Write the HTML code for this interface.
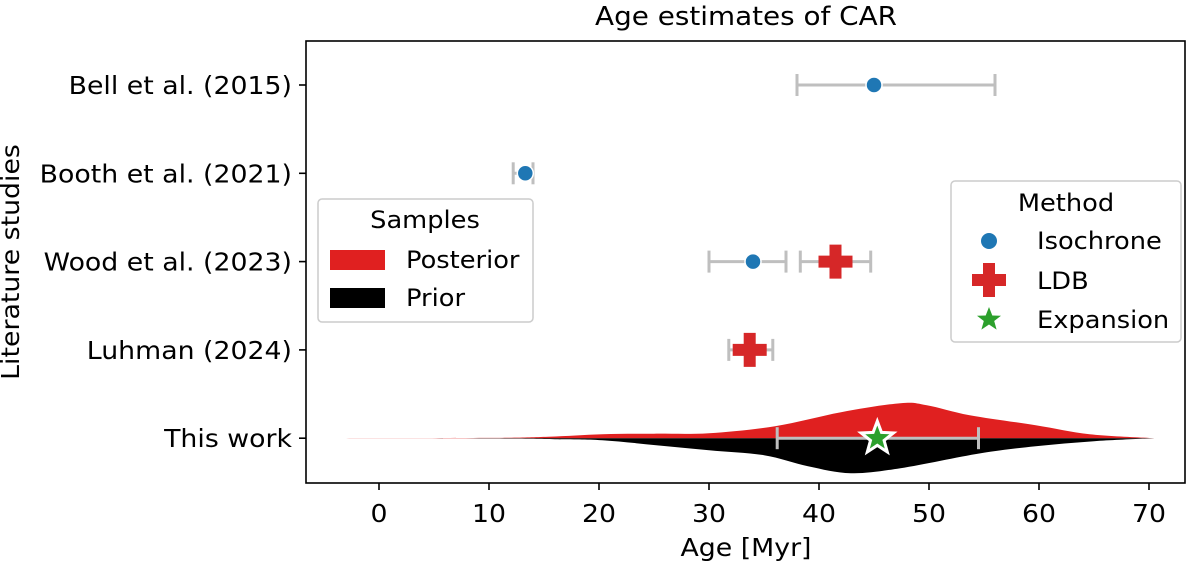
<!DOCTYPE html>
<html><head><meta charset="utf-8"><style>
body{margin:0;background:#fff}
svg text{font-family:"DejaVu Sans","Liberation Sans",sans-serif;fill:#000}
</style></head><body>
<svg id="c" width="1200" height="564" viewBox="0 0 1200 564">
<g id="violin"></g><g id="marks"></g><g id="axes"></g>
</svg>
<script>
const studies=["Bell et al. (2015)","Booth et al. (2021)","Wood et al. (2023)","Luhman (2024)","This work"];
const isoVal=[45,13.3,34,null,null];
const isoLo=[38,12.2,30,null,null];
const isoHi=[56,14,37,null,null];
const ldbVal=[null,null,41.5,33.7,null];
const ldbLo=[null,null,38.3,31.8,null];
const ldbHi=[null,null,44.7,35.8,null];
const expVal=45.3, expLo=36.2, expHi=54.5;
const postX=[-3,10,15.4,20.3,25,30,36,42,47.4,49.8,53.7,59.7,64.6,70.5];
const postD=[0,0.3,1.5,4,4.5,5,12,26,35,33,23,13,4,0];
const priorX=[-3,10,16,20.3,25.2,30,35,39,42.9,47.4,54.7,59.7,65,70.5];
const priorD=[0,0.3,1,2,7,12,17,28,35,30,15,8,3,0];
const xTicks=[0,10,20,30,40,50,60,70];
const NS="http://www.w3.org/2000/svg";
const L=306,R=1185,T=41,B=483;
const xs=v=>379+v*11;
const ys=i=>85+i*88.3;
function mk(tag,attrs,parent,txt){const e=document.createElementNS(NS,tag);for(const k in attrs)e.setAttribute(k,attrs[k]);if(txt!==undefined)e.textContent=txt;(typeof parent==="string"?document.getElementById(parent):parent).appendChild(e);return e;}
function smooth(X,D,sign,base){let pts=X.map((x,i)=>[xs(x),base+sign*D[i]]);let d="M"+pts[0][0]+","+base;
for(let i=0;i<pts.length-1;i++){const p0=pts[Math.max(i-1,0)],p1=pts[i],p2=pts[i+1],p3=pts[Math.min(i+2,pts.length-1)];
d+=` C${p1[0]+(p2[0]-p0[0])/6},${p1[1]+(p2[1]-p0[1])/6} ${p2[0]-(p3[0]-p1[0])/6},${p2[1]-(p3[1]-p1[1])/6} ${p2[0]},${p2[1]}`;}
return d+" Z";}
const b=ys(4);
let e=mk("path",{d:smooth(postX,postD,-1,b),fill:"#e02020"},"violin");


e=mk("path",{d:smooth(priorX,priorD,1,b),fill:"#000"},"violin");


function err(lo,hi,y,name){const g=mk("g",{stroke:"#bfbfbf","stroke-width":3},"marks");
mk("line",{x1:xs(lo),x2:xs(hi),y1:y,y2:y},g);mk("line",{x1:xs(lo),x2:xs(lo),y1:y-11,y2:y+11},g);mk("line",{x1:xs(hi),x2:xs(hi),y1:y-11,y2:y+11},g);

}
function plus(cx,cy,g){return mk("path",{d:`M${cx-6},${cy-17}h12v11h11v12h-11v11h-12v-11h-11v-12h11z`,fill:"#d62728"},g);}
function star(cx,cy,r,g,sw){let p="";for(let i=0;i<10;i++){const a=-Math.PI/2+i*Math.PI/5,rr=i%2?r*0.42:r;p+=(i?"L":"M")+(cx+rr*Math.cos(a))+","+(cy+rr*Math.sin(a));}
return mk("path",{d:p+"Z",fill:"#2ca02c",stroke:"#fff","stroke-width":sw},g);}
for(let i=0;i<studies.length;i++){
 if(isoVal[i]!==null){err(isoLo[i],isoHi[i],ys(i),"isochrone-errorbar-"+i);
  e=mk("circle",{cx:xs(isoVal[i]),cy:ys(i),r:8,fill:"#1f77b4",stroke:"#fff","stroke-width":1.5},"marks");
  
  }
 if(ldbVal[i]!==null){err(ldbLo[i],ldbHi[i],ys(i),"ldb-errorbar-"+i);
  e=plus(xs(ldbVal[i]),ys(i),"marks");
  
  }
}
err(expLo,expHi,b,"expansion-errorbar");
e=star(xs(expVal),b,17,"marks",3);


e=mk("rect",{x:L,y:T,width:R-L,height:B-T,fill:"none",stroke:"#000","stroke-width":1.6},"axes");


xTicks.forEach(t=>{mk("line",{x1:xs(t),x2:xs(t),y1:B,y2:B+7,stroke:"#000","stroke-width":1.6},"axes");
 e=mk("text",{x:xs(t),y:B+39,"text-anchor":"middle","font-size":25},"axes",t);
 
 });
studies.forEach((s,i)=>{mk("line",{x1:L-7,x2:L,y1:ys(i),y2:ys(i),stroke:"#000","stroke-width":1.6},"axes");
 e=mk("text",{x:L-14,y:ys(i)+9,"text-anchor":"end","font-size":25},"axes",s);
 
 });
const s=document.getElementById('c');
function t(x,y,txt,fs,name,extra){const e=document.createElementNS(NS,"text");e.setAttribute('x',x);e.setAttribute('y',y);e.setAttribute('font-size',fs);if(extra)for(const k in extra)e.setAttribute(k,extra[k]);e.textContent=txt;


s.appendChild(e);return e;}
t(746,556,"Age [Myr]",25,"x-axis-title",{"text-anchor":"middle"});
t(746,25,"Age estimates of CAR",26,"chart-title",{"text-anchor":"middle"});
t(19,262,"Literature studies",25,"y-axis-title",{"text-anchor":"middle",transform:"rotate(-90 19 262)"});
let lg=document.createElementNS(NS,"g");


s.appendChild(lg);
lg.innerHTML='<rect x="318" y="199" width="215" height="123" rx="4" fill="#fff" fill-opacity="0.85" stroke="#ccc" stroke-width="1.5"/><text x="425" y="228" text-anchor="middle" font-size="24">Samples</text><rect x="330" y="250" width="55" height="20" fill="#e02020"/><text x="406" y="268" font-size="24">Posterior</text><rect x="330" y="288" width="55" height="20" fill="#000"/><text x="406" y="306" font-size="24">Prior</text>';
let mg=document.createElementNS(NS,"g");


s.appendChild(mg);
mg.innerHTML='<rect x="951" y="181" width="230" height="161" rx="4" fill="#fff" fill-opacity="0.85" stroke="#ccc" stroke-width="1.5"/><text x="1066" y="211" text-anchor="middle" font-size="24">Method</text><circle cx="989" cy="241" r="8" fill="#1f77b4"/><text x="1037" y="249" font-size="24">Isochrone</text><path d="M983,263h12v11h11v12h-11v11h-12v-11h-11v-12h11z" fill="#d62728"/><text x="1037" y="289" font-size="24">LDB</text><path d="M989,307 L992.3,315.5 L1001,315.7 L994.2,321 L996.6,329.6 L989,324.5 L981.4,329.6 L983.8,321 L977,315.7 L985.7,315.5Z" fill="#2ca02c"/><text x="1037" y="328" font-size="24">Expansion</text>';
s.querySelectorAll('text').forEach(el=>{const w=el.getComputedTextLength();if(w>0){el.setAttribute('textLength',(w*1.07).toFixed(1));el.setAttribute('lengthAdjust','spacingAndGlyphs');}});
</script>
</body></html>
